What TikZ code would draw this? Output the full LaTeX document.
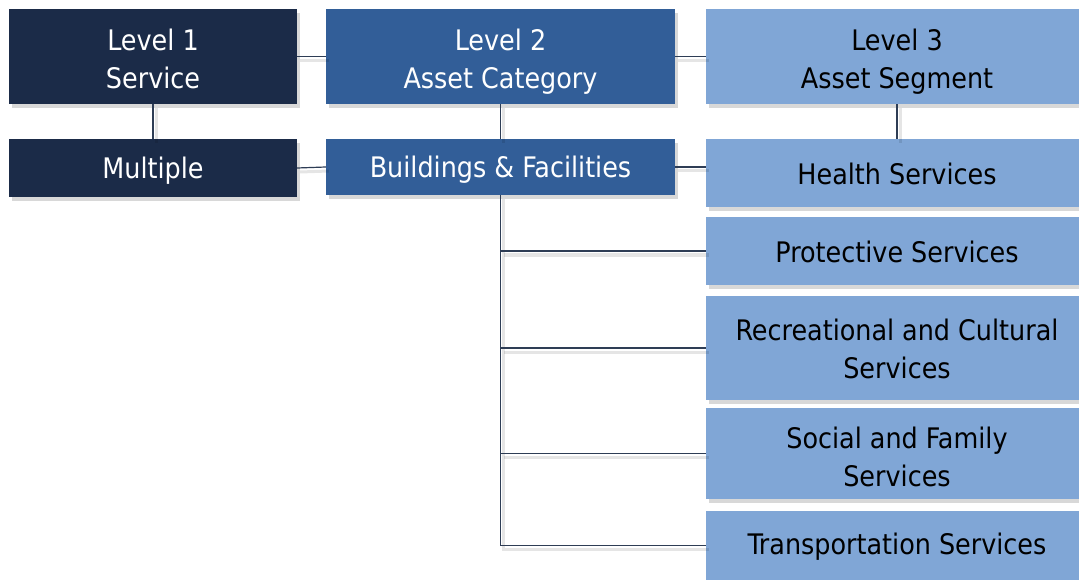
\documentclass[tikz,border=0pt]{standalone}
\usepackage{fontspec}
\setmainfont{DejaVu Sans Condensed}
\usetikzlibrary{shadows}
\definecolor{navy}{HTML}{1B2B48}
\definecolor{midblue}{HTML}{325E98}
\definecolor{lightblue}{HTML}{80A6D6}
\definecolor{linecol}{HTML}{2E3D55}
\tikzset{
  box/.style={rectangle, inner sep=0pt,
    drop shadow={shadow xshift=3pt, shadow yshift=-4pt, opacity=0.25, fill=black!60}},
  lvlone/.style={box, fill=navy, minimum width=288pt},
  lvltwo/.style={box, fill=midblue, minimum width=349pt},
  lvlthree/.style={box, fill=lightblue, minimum width=382pt},
  txt/.style={inner sep=0pt, align=center, font=\fontsize{28.3}{38}\selectfont},
  txtw/.style={txt, text=white},
  txtb/.style={txt, text=black},
  conn/.style={draw=linecol, line width=1.2pt,
    preaction={draw=black, opacity=0.1, line width=3pt, transform canvas={shift={(3pt,-4pt)}}}}
}
\begin{document}
\begin{tikzpicture}[x=1pt,y=-1pt]
\useasboundingbox[fill=white] (0,0) rectangle (1079,580);
\node[lvlone, minimum height=95pt] (L1) at (153,56.5) {};
\node[lvlone, minimum height=58pt] (M) at (153,168) {};
\node[lvltwo, minimum height=95pt] (L2) at (500.5,56.5) {};
\node[lvltwo, minimum height=56pt] (BF) at (500.5,167) {};
\node[lvlthree, minimum height=95pt] (L3) at (897,56.5) {};
\node[lvlthree, minimum height=68pt] (H) at (897,173) {};
\node[lvlthree, minimum height=68pt] (P) at (897,251) {};
\node[lvlthree, minimum height=104pt] (R) at (897,348) {};
\node[lvlthree, minimum height=91pt] (S) at (897,453.5) {};
\node[lvlthree, minimum height=69pt] (T) at (897,545.5) {};
\node[txtw] (L1t) at ([yshift=-2pt]L1.center) {Level 1\\Service};
\node[txtw] (Mt) at ([yshift=-3pt]M.center) {Multiple};
\node[txtw] (L2t) at ([yshift=-5pt]L2.center) {Level 2\\Asset Category};
\node[txtw] (BFt) at ([yshift=-3pt]BF.center) {Buildings \& Facilities};
\node[txtb] (L3t) at ([yshift=-5pt]L3.center) {Level 3\\Asset Segment};
\node[txtb] (Ht) at ([yshift=-1pt]H.center) {Health Services};
\node[txtb] (Pt) at ([yshift=-1pt]P.center) {Protective Services};
\node[txtb] (Rt) at ([yshift=-1pt]R.center) {Recreational and Cultural\\Services};
\node[txtb] (St) at ([yshift=-3pt]S.center) {Social and Family\\Services};
\node[txtb] (Tt) at ([yshift=-1pt]T.center) {Transportation Services};
\draw[conn] (L1.east) -- (L2.west);
\draw[conn] (M.east) -- (BF.west);
\draw[conn] (L2.east) -- (L3.west);
\draw[conn] (BF.east) -- (BF.east -| H.west);
\draw[conn] (L1.south) -- (M.north);
\draw[conn] (L2.south) -- (BF.north);
\draw[conn] (L3.south) -- (H.north);
\draw[conn] (BF.south) -- (BF.south |- T.west) -- (T.west);
\draw[conn] (BF.south |- P.west) -- (P.west);
\draw[conn] (BF.south |- R.west) -- (R.west);
\draw[conn] (BF.south |- S.west) -- (S.west);
\end{tikzpicture}
\end{document}
